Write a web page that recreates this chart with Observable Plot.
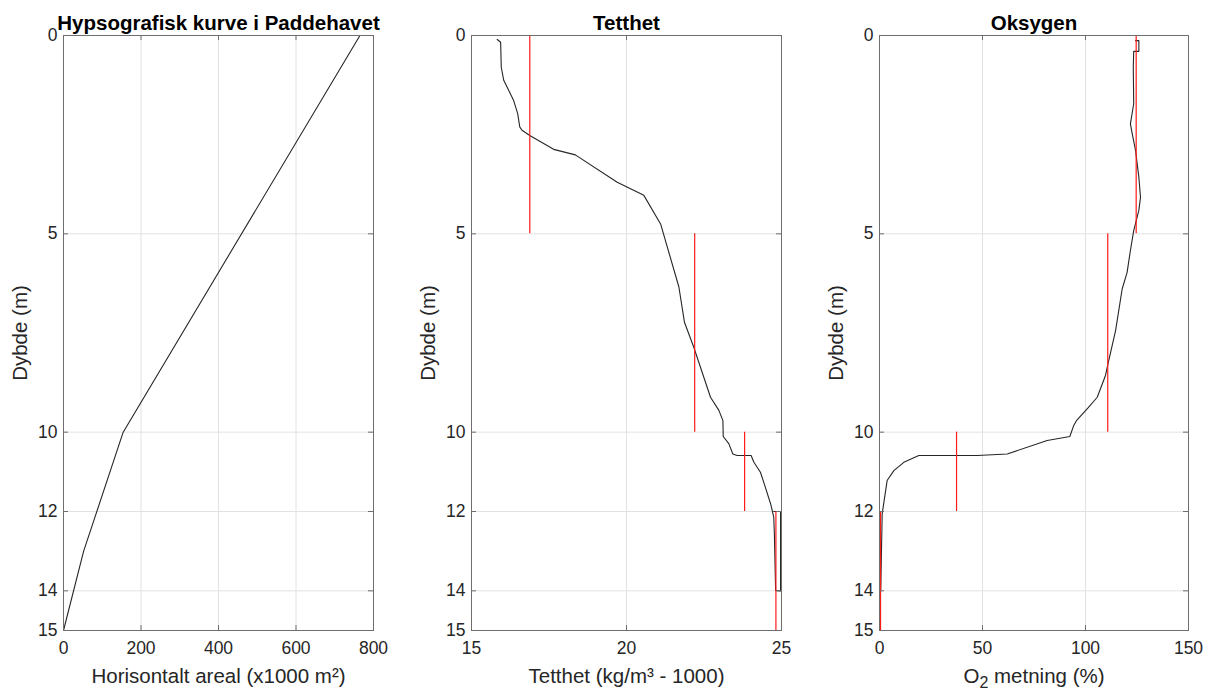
<!DOCTYPE html>
<html><head><meta charset="utf-8">
<script src="https://cdn.jsdelivr.net/npm/d3@7"></script>
<script src="https://cdn.jsdelivr.net/npm/@observablehq/plot@0.6"></script>
<style>
html,body{margin:0;padding:0;background:#fff}
body{width:1210px;height:691px;position:relative;overflow:hidden;font-family:"Liberation Sans",Arial,sans-serif}
.panel{position:absolute;top:0;height:691px}
.panel svg{font-family:"Liberation Sans",Arial,sans-serif;max-width:none}
g[aria-label$="tick label"]{font-size:17.5px;fill:#262626}
g[aria-label$="-axis label"]{font-size:20.5px;fill:#262626}
</style>
</head><body>
<script>
// ---- data ----
const depthTicks = [0, 5, 10, 12, 14, 15];
const areaTicks = [0, 200, 400, 600, 800];
const densTicks = [15, 20, 25];
const oxyTicks = [0, 50, 100, 150];

const hypsoArea  = [765, 154, 52, 0];
const hypsoDepth = [0, 10, 13, 15];

const densValue = [15.83,15.94,15.96,16.04,16.36,16.49,16.55,16.56,16.63,16.88,17.65,18.35,19.7,20.56,21.1,21.69,21.87,22.17,22.71,22.98,23.11,23.12,23.3,23.43,23.57,24.02,24.11,24.32,24.48,24.65,24.75,24.77,24.81,24.97,24.97,24.75];
const densDepth = [0.10,0.17,0.8,1.13,1.64,1.97,2.27,2.31,2.39,2.52,2.87,3.01,3.70,4.03,4.75,6.34,7.23,7.86,9.12,9.45,9.71,10.11,10.29,10.55,10.59,10.59,10.76,11.01,11.39,11.81,12.14,12.56,13.99,14.0,12.0,12.0];

const oxyValue = [124.3,125.9,125.9,123.4,123.2,123.4,121.8,122.7,124.3,125.9,126.7,125.9,123.4,121.8,120.2,117.8,114.6,111.3,109.7,105.7,100.8,95.6,94.3,92.4,81.4,62.0,47.4,19.1,11.8,6.97,3.7,1.3,0.6];
const oxyDepth = [0.13,0.13,0.4,0.4,0.8,1.72,2.23,2.48,2.9,3.57,4.08,4.41,4.92,5.42,5.97,6.39,7.44,8.19,8.57,9.12,9.41,9.71,9.83,10.11,10.21,10.55,10.59,10.59,10.76,10.97,11.22,12.06,14.0];

const layerTop    = [0, 5, 10, 12];
const layerBottom = [5, 10, 12, 15];
const densMean = [16.88, 22.2, 23.81, 24.82];
const oxyMean  = [124.6, 110.8, 37.4, 0.5];

const titles = ["Hypsografisk kurve i Paddehavet", "Tetthet", "Oksygen"];
const xLabels = ["Horisontalt areal (x1000 m²)", "Tetthet (kg/m³ - 1000)", "O2 metning (%)"];
const yLabel = "Dybde (m)";

// ---- drawing ----
const H = 691, MT = 35, MB = 61, ML = 63;
const FRAME = "#6e6e6e", GRID = "#e2e2e2";

function panel({left, width, marginRight, xDomain, xTicks, xLabel, title, profX, profY, meanX}) {
  const fw = width - ML - marginRight, fh = H - MT - MB;
  const prof = profX.map((x, i) => ({x, y: profY[i]}));
  const means = meanX ? meanX.map((x, i) => ({x, y1: layerTop[i], y2: layerBottom[i]})) : [];
  const svg = Plot.plot({
    width, height: H, marginTop: MT, marginBottom: MB, marginLeft: ML, marginRight,
    style: {fontFamily: "Liberation Sans, Arial, sans-serif", background: "white", overflow: "visible"},
    x: {domain: xDomain},
    y: {domain: [0, 15], reverse: true},
    marks: [
      Plot.ruleX(xTicks, {stroke: GRID}),
      Plot.ruleY(depthTicks, {stroke: GRID}),
      Plot.line(prof, {x: "x", y: "y", stroke: "#262626", strokeWidth: 1.1}),
      Plot.ruleX(means, {x: "x", y1: "y1", y2: "y2", stroke: "#ff1a1a", strokeWidth: 1.2}),
      Plot.frame({stroke: FRAME}),
      Plot.ruleX(xTicks, {insetTop: fh - 5, stroke: FRAME}),
      Plot.ruleX(xTicks, {insetBottom: fh - 5, stroke: FRAME}),
      Plot.ruleY(depthTicks, {insetRight: fw - 5, stroke: FRAME}),
      Plot.ruleY(depthTicks, {insetLeft: fw - 5, stroke: FRAME}),
      Plot.axisX({ticks: xTicks, tickSize: 0, tickPadding: 11, label: xLabel, labelAnchor: "center", labelArrow: "none", labelOffset: 52}),
      Plot.axisY({ticks: depthTicks, tickSize: 0, tickPadding: 6, label: yLabel, labelAnchor: "center", labelArrow: "none", labelOffset: 51}),
      Plot.text([title], {text: d => d, frameAnchor: "top", lineAnchor: "bottom", dy: -6, fontWeight: "bold", fontSize: 20.5, fill: "#000"})
    ]
  });
  const div = document.createElement("div");
  div.className = "panel";
  div.style.left = left + "px";
  div.style.width = width + "px";
  div.appendChild(svg);
  document.body.appendChild(div);
  return svg;
}

panel({left: 0, width: 400, marginRight: 27, xDomain: [0, 800], xTicks: areaTicks, xLabel: xLabels[0], title: titles[0], profX: hypsoArea, profY: hypsoDepth});
panel({left: 408, width: 400, marginRight: 27, xDomain: [15, 25], xTicks: densTicks, xLabel: xLabels[1], title: titles[1], profX: densValue, profY: densDepth, meanX: densMean});
const s3 = panel({left: 816, width: 400, marginRight: 28, xDomain: [0, 150], xTicks: oxyTicks, xLabel: xLabels[2], title: titles[2], profX: oxyValue, profY: oxyDepth, meanX: oxyMean});

// subscript in the O2 label
const lab = s3.querySelector('g[aria-label="x-axis label"] text');
if (lab) {
  lab.textContent = "";
  const ns = "http://www.w3.org/2000/svg";
  const a = document.createElementNS(ns, "tspan"); a.textContent = "O";
  const b = document.createElementNS(ns, "tspan"); b.textContent = "2"; b.setAttribute("dy", "5"); b.setAttribute("font-size", "16");
  const c = document.createElementNS(ns, "tspan"); c.textContent = " metning (%)"; c.setAttribute("dy", "-5");
  lab.append(a, b, c);
}
</script>
</body></html>
